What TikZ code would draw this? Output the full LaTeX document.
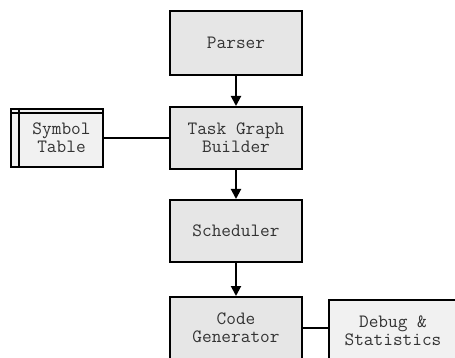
\documentclass[tikz,border=0pt]{standalone}
\usepackage{fontspec}
\usetikzlibrary{arrows.meta}
\definecolor{boxfill}{RGB}{230,230,230}
\definecolor{sidefill}{RGB}{241,241,241}
\begin{document}
\begin{tikzpicture}[x=1pt,y=-1pt,
  base/.style={draw=black,line width=2pt,align=center,inner sep=0pt,
    font=\ttfamily\fontsize{18.8}{18}\selectfont,text=black!80},
  mainbox/.style={base,fill=boxfill,minimum width=132pt,minimum height=62pt},
  sidebox/.style={base,fill=sidefill},
  flow/.style={line width=2pt,-{Triangle[length=10pt,width=10pt]}},
  link/.style={line width=2pt}]
\useasboundingbox (0,0) rectangle (455,358);
\begin{scope}
\clip (0,0) rectangle (455,358);
\node[mainbox,minimum height=64pt] (parser) at (236,43) {Parser};
\node[mainbox] (tgb) at (236,138) {Task Graph\\Builder};
\node[mainbox] (sched) at (236,231) {Scheduler};
\node[mainbox] (cg) at (236,328) {Code\\Generator};
\node[sidebox,minimum width=92pt,minimum height=58pt] (st) at (57,138) {\hspace*{9pt}Symbol\\\hspace*{9pt}Table};
\draw[link] ([xshift=9pt]st.north west) -- ([xshift=9pt]st.south west);
\draw[link] ([yshift=-5pt]st.north west) -- ([yshift=-5pt]st.north east);
\node[sidebox,minimum width=128pt,minimum height=62pt] (dbg) at (393,331) {Debug \&\\Statistics};
\draw[flow] (parser) -- (tgb);
\draw[flow] (tgb) -- (sched);
\draw[flow] (sched) -- (cg);
\draw[link] (st.east) -- (st.east -| tgb.west);
\draw[link] (cg.east) -- (cg.east -| dbg.west);
\end{scope}
\end{tikzpicture}
\end{document}
